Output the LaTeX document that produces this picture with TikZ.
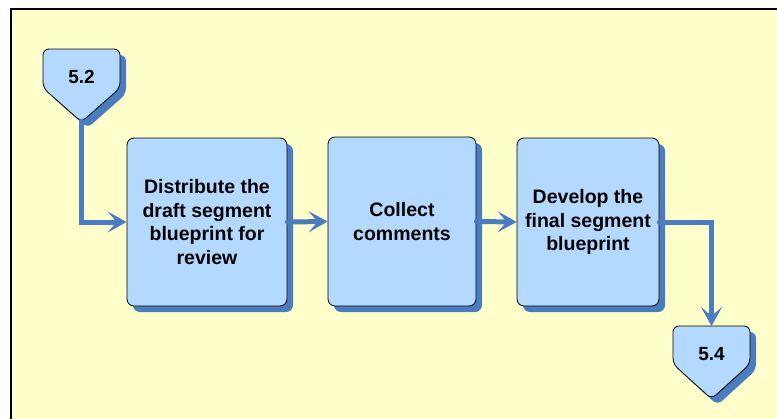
\documentclass[tikz,border=0pt]{standalone}
\usepackage{fontspec}
\setmainfont{Liberation Sans}
\usetikzlibrary{shadows,arrows.meta}
\definecolor{paleyellow}{HTML}{FFFFCC}
\definecolor{boxblue}{HTML}{B3D9FF}
\definecolor{flowblue}{HTML}{4A7CC0}

\begin{document}
\begin{tikzpicture}[x=1pt,y=-1pt,
    stepbox/.style={draw=black,fill=boxblue,rounded corners=7pt,line width=0.8pt,
      align=center,font=\bfseries\fontsize{19.5}{23.5}\selectfont,
      drop shadow={shadow xshift=6pt,shadow yshift=-6pt,fill=flowblue,opacity=1}},
    offpage/.style={draw=black,fill=boxblue,rounded corners=6pt,line width=0.8pt,
      drop shadow={shadow xshift=6pt,shadow yshift=-6pt,fill=flowblue,opacity=1}},
    pagelabel/.style={font=\bfseries\fontsize{19}{22}\selectfont},
    flow/.style={draw=flowblue,line width=5pt,line cap=round,
      -{Stealth[length=19pt,width=21pt,inset=9pt]}}]
  \clip (0,0) rectangle (777,418);
  % page background
  \fill[paleyellow] (11,9) rectangle (800,440);
  \draw[line width=2.2pt] (11,440) -- (11,9) -- (800,9);

  % off-page connectors
  \path[offpage] (43,49) -- (120,49) -- (120,88) -- (81.5,122) -- (43,88) -- cycle;
  \node[pagelabel] (p52) at (81.5,77) {5.2};
  \coordinate (p52tip) at (81.5,121);

  \path[offpage] (673,326) -- (750,326) -- (750,364) -- (711.5,399) -- (673,364) -- cycle;
  \node[pagelabel] (p54) at (711.5,354) {5.4};
  \coordinate (p54top) at (711.5,326);

  % steps
  \node[stepbox,minimum width=160pt,minimum height=168pt] (distribute) at (207,222)
    {Distribute the\\draft segment\\blueprint for\\review};
  \node[stepbox,minimum width=148pt,minimum height=169pt] (collect) at (402,221.5)
    {Collect\\comments};
  \node[stepbox,minimum width=142pt,minimum height=168pt] (develop) at (588,222)
    {Develop the\\final segment\\blueprint};

  % flow
  \draw[flow] (p52tip) |- (distribute.west);
  \draw[flow] (distribute.east) -- (collect.west);
  \draw[flow] (collect.east) -- (develop.west);
  \draw[flow] (develop.east) -| (p54top);
\end{tikzpicture}
\end{document}
